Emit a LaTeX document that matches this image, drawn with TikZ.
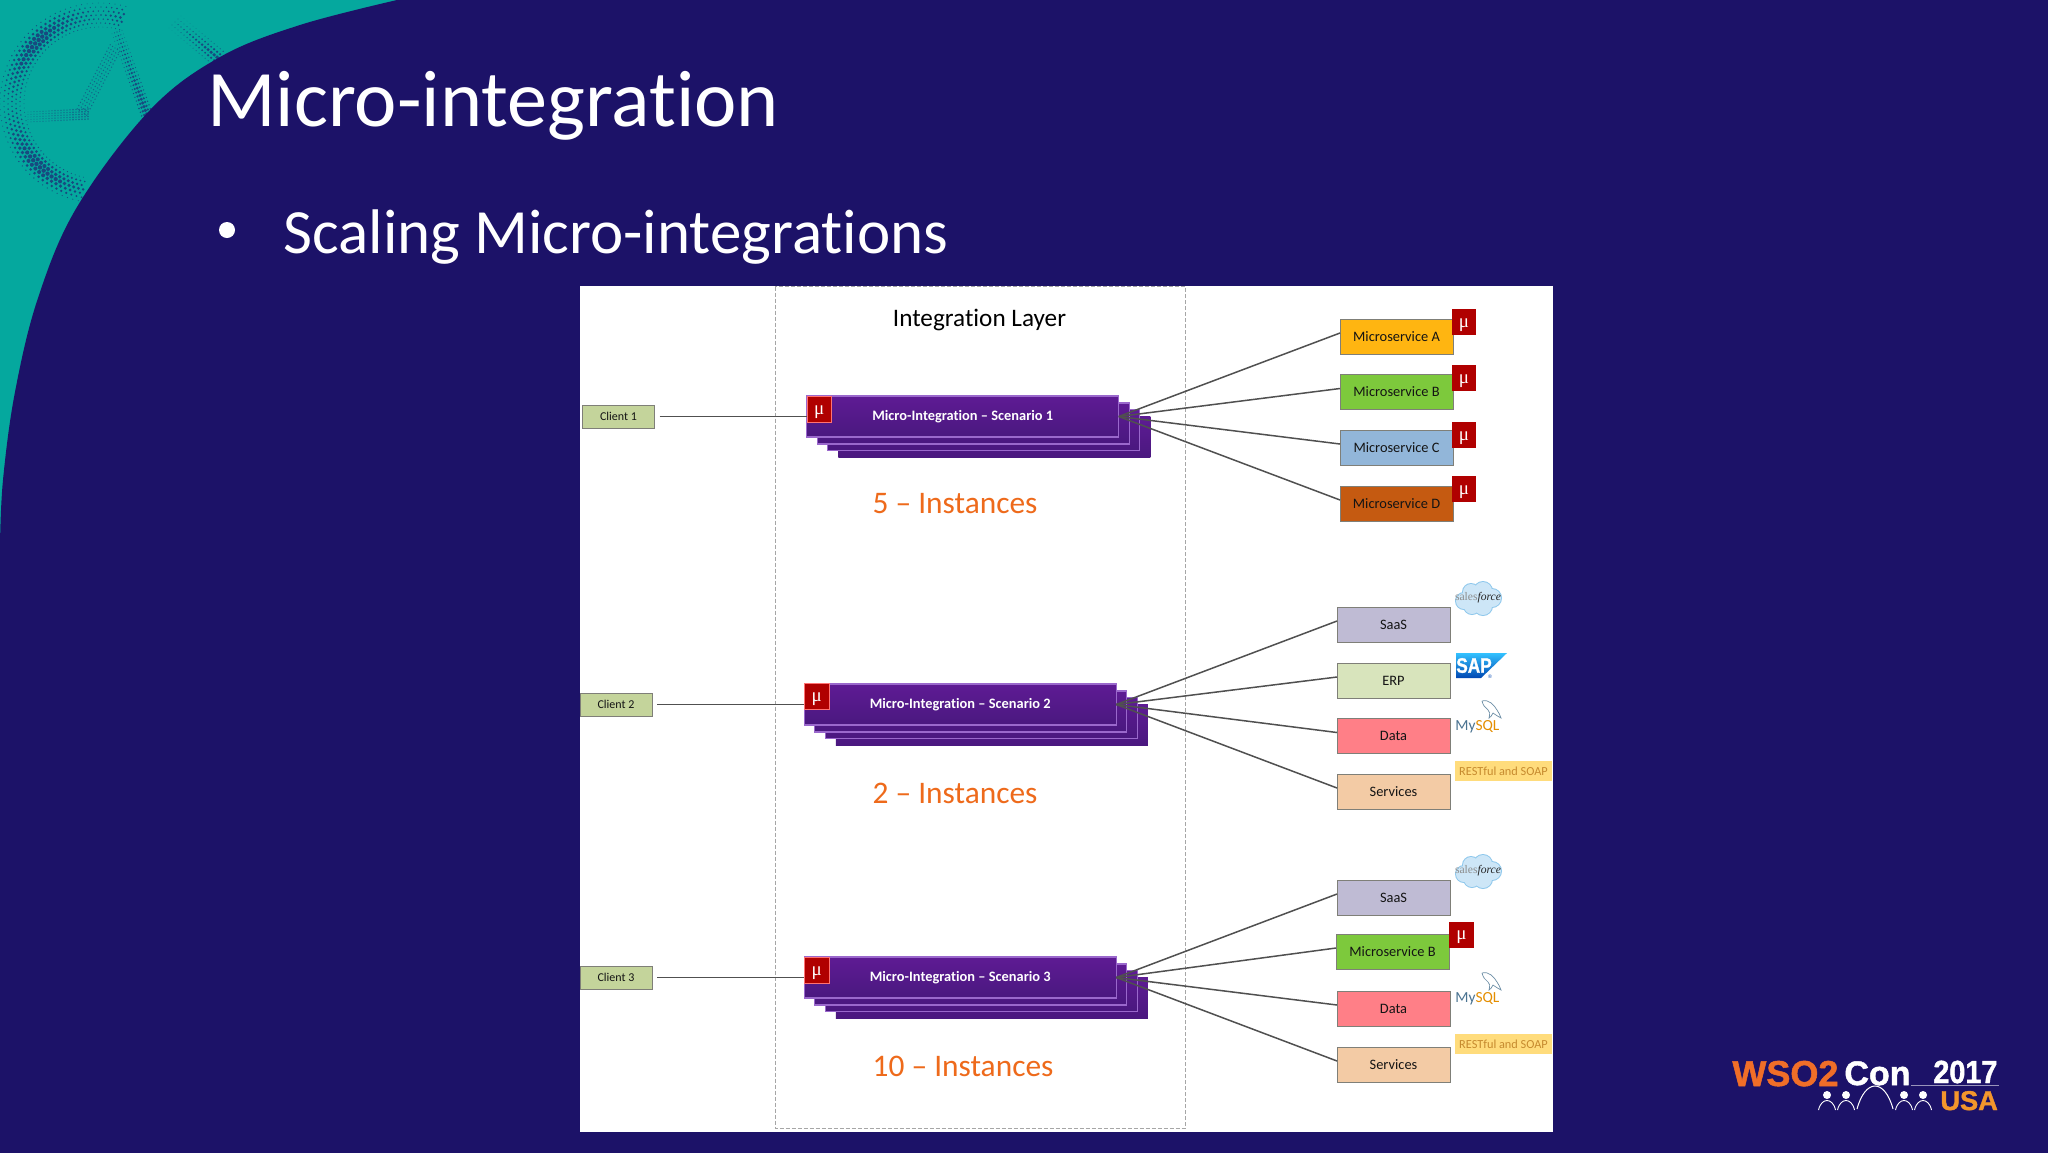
\documentclass[tikz,border=0pt]{standalone}
\usepackage{fontspec}
\setmainfont[Ligatures=NoCommon]{Carlito}
\newfontfamily\muface{Liberation Serif}
\newfontfamily\arialface{Liberation Sans}
\newfontfamily\logoface[BoldFeatures={FakeBold=1.4}]{Liberation Sans}
\usetikzlibrary{calc}
\definecolor{navy}{HTML}{1C1268}
\definecolor{teal1}{HTML}{05A89E}
\definecolor{dotblue}{HTML}{174A80}
\definecolor{cardtop}{HTML}{5E1B94}
\definecolor{cardbot}{HTML}{4A187F}
\definecolor{cardedge}{HTML}{9A68CC}
\definecolor{conn}{HTML}{505050}
\definecolor{orangetxt}{HTML}{EE6A1B}
\definecolor{boxedge}{HTML}{7F7F78}
\definecolor{mured}{HTML}{B00000}
\newcommand\fs[1]{\fontsize{#1}{#1}\selectfont}
\tikzset{
  card/.style={rectangle,inner sep=0,outer sep=0,minimum width=156pt,minimum height=20.5pt,
    top color=cardtop,bottom color=cardbot,draw=cardedge,line width=.6pt,
    text=white,text height=6pt,text depth=1.6pt,font=\fs{7.2}\bfseries},
  cardlast/.style={card,draw=none},
  svc/.style={rectangle,inner sep=0,outer sep=0,minimum width=56.5pt,minimum height=17.5pt,
    draw=boxedge,line width=.5pt,text=black!92,font=\fs{7.2}},
  client/.style={rectangle,inner sep=0,outer sep=0,minimum width=36pt,minimum height=11.5pt,
    draw=boxedge,fill=clientfill,line width=.5pt,text=black!92,font=\fs{6}},
  mubox/.style={rectangle,inner sep=0,outer sep=0,minimum width=12.25pt,minimum height=13pt,
    fill=mured,text=white,text height=7pt,text depth=2pt,font=\muface\fs{9.5}},
  mufront/.style={mubox,draw=red!55!white,line width=.4pt},
  wire/.style={draw=conn,line width=.75pt},
  instances/.style={inner sep=0,text=orangetxt,font=\fs{15.7}},
  restbox/.style={rectangle,inner sep=0,minimum width=48.5pt,minimum height=10pt,
    fill=restfill,text=resttext,font=\fs{6.15}},
  cloudlogo/.pic={
    \foreach \cx/\cy/\cr in {-14/2/8,-7/-7/8,5/-8/9,14/-1/9,5/7/9,-6/7/8}{
      \fill[cloudedge] (\cx,\cy) circle ({\cr*.5pt+.5pt});}
    \foreach \cx/\cy/\cr in {-14/2/8,-7/-7/8,5/-8/9,14/-1/9,5/7/9,-6/7/8,0/0/12}{
      \fill[cloudfill] (\cx,\cy) circle ({\cr*.5pt});}
    \node[inner sep=0,font=\muface\fs{5.8}] (lbl) at (0,-1) {\textcolor{black!45}{sales}\textcolor{black!85}{\itshape force}};
  },
  mysqllogo/.pic={
    \node[inner sep=0,anchor=base west,font=\fs{7.7}] (lbl) at (-1,0) {\textcolor{sqlblue}{My}\textcolor{sqlorange}{SQL}};
    \draw[sqlblue!80!white,line width=.35pt] (26,-29) .. controls (33,-31) and (38,-25) .. (41,-20)
       .. controls (43,-17) and (44,-15) .. (45,-12) .. controls (42,-14) and (39,-15) .. (37,-17)
       .. controls (36,-14) and (34,-13) .. (33,-12) .. controls (34,-16) and (34,-19) .. (32,-20)
       .. controls (29,-22) and (27,-25) .. (26,-29);
  },
  person/.pic={
    \fill[white] (0,0) circle (2pt);
    \draw[white,line width=.45pt] (-8.5,15) .. controls (-7,8) and (-3,5.5) .. (0,5.5) .. controls (3,5.5) and (7,8) .. (8.5,15);
  }
}
\definecolor{clientfill}{HTML}{C4D49B}
\definecolor{restfill}{HTML}{FFDC7C}
\definecolor{resttext}{HTML}{C68A2E}
\definecolor{cloudfill}{HTML}{CDE6F7}
\definecolor{cloudedge}{HTML}{8FC8EC}
\definecolor{sqlblue}{HTML}{4A7391}
\definecolor{sqlorange}{HTML}{E48E00}
\begin{document}
\begin{tikzpicture}[x=.5pt,y=-.5pt]
\useasboundingbox (0,0) rectangle (2048,1152);
% background
\fill[teal1] (0,0) rectangle (2048,1152);
% halftone ring
\foreach \a in {75,78.2,...,260}{
  \foreach \row in {0,...,6}{
    \pgfmathsetmacro{\r}{76+\row*4}
    \pgfmathsetmacro{\aa}{\a+mod(\row,2)*1.6}
    \pgfmathsetmacro{\band}{sin((\row+.5)*180/7)}
    \pgfmathsetmacro{\fade}{0.25+0.75*abs(sin(\a*2.0))}
    \pgfmathsetmacro{\rad}{0.12+1.0*\band*\fade}
    \fill[dotblue] ({100+\r*cos(\aa)},{103-\r*sin(\aa)}) circle ({\rad*1pt});
  }
}
% short arc top right
\foreach \t in {0,.07,...,1.01}{
  \foreach \row in {-2,...,2}{
    \pgfmathsetmacro{\rad}{(0.2+0.8*\t)*(1-abs(\row)/3)}
    \fill[dotblue] ({175+43*\t+\row*3},{22+36*\t-\row*3}) circle ({\rad*1pt});
  }
}
% A shape: heavy right stroke
\foreach \t in {0,.045,...,1.01}{
  \foreach \row in {-2,...,2}{
    \pgfmathsetmacro{\rad}{(0.35+0.6*\t)*(1-abs(\row)/3.5)}
    \fill[dotblue] ({117+30*\t+\row*2.5},{32+83*\t-\row*.9}) circle ({\rad*1pt});
  }
}
% A shape: fine left stroke and foot
\foreach \t in {0,.05,...,1.01}{
  \foreach \row in {-2,...,2}{
    \fill[dotblue!70!teal1] ({115-33*\t+\row*2.4},{48+64*\t+\row*1.6}) circle (.36pt);
    \fill[dotblue!70!teal1] ({88-60*\t},{114+3*\t+\row*2.5}) circle ({(.45-.22*\t)*1pt});
  }
}
% navy field
\fill[navy] (2049,-1) -- (400,-1) -- plot[smooth,tension=.6] coordinates
  {(397,0) (300,25) (220,57) (150,110) (77,207) (38,298) (15,392) (3,480) (0,545)}
  -- (-1,1153) -- (2049,1153) -- cycle;
% title
\node[inner sep=0,anchor=base west,text=white,font=\fs{40.1}] (title) at (207,126) {Micro-integration};
\fill[white] (227,230) circle (4pt);
\node[inner sep=0,anchor=base west,text=white,font=\fs{31.5}] (subtitle) at (283,253) {Scaling Micro-integrations};
% panel
\fill[white] (580,285.5) rectangle (1553,1132);
\draw[draw=black!35,line width=.5pt,dash pattern=on 2pt off 1pt] (775,286.5) rectangle (1185.5,1128);
\node[inner sep=0,text=black,font=\fs{12.6}] (layer) at (979.5,320) {Integration Layer};
% scenario stacks
\foreach \n/\dx/\dy/\st in {4/31.5/20.5/cardlast,3/21/13.5/card,2/10.5/7/card}{
  \node[\st] (sa\n) at (962.75+\dx,416.5+\dy) {};
  \node[\st] (sb\n) at (960.25+\dx,704.5+\dy) {};
  \node[\st] (sc\n) at (960.25+\dx,977.5+\dy) {};
}
\node[card] (sa) at (962.75,416.5) {Micro-Integration – Scenario 1};
\node[card] (sb) at (960.25,704.5) {Micro-Integration – Scenario 2};
\node[card] (sc) at (960.25,977.5) {Micro-Integration – Scenario 3};
\node[mufront] (ma) at (819.25,409) {μ};
\node[mufront] (mb) at (816.75,696.5) {μ};
\node[mufront] (mc) at (816.75,970) {μ};
% clients
\node[client] (ca) at (618.5,416.5) {Client 1};
\node[client] (cb) at (616,704.5) {Client 2};
\node[client] (cc) at (616,977.5) {Client 3};
\draw[wire,shorten <=2.5pt] (ca) -- (sa.west);
\draw[wire,shorten <=2.5pt] (cb) -- (sb.west);
\draw[wire,shorten <=2.5pt] (cc) -- (sc.west);
% instances
\node[instances] (ia) at (955,504) {5 – Instances};
\node[instances] (ib) at (955,793) {2 – Instances};
\node[instances] (ic) at (963,1066) {10 – Instances};
% services 1
\node[svc,fill={rgb,255:red,255;green,181;blue,17}] (a1) at (1396.5,336.5) {Microservice A};
\node[svc,fill={rgb,255:red,125;green,201;blue,60}] (a2) at (1396.5,392) {Microservice B};
\node[svc,fill={rgb,255:red,146;green,182;blue,217}] (a3) at (1396.5,447.5) {Microservice C};
\node[svc,fill={rgb,255:red,197;green,90;blue,17}] (a4) at (1396.5,503.5) {Microservice D};
\node[mubox] (ma1) at (1464,322) {μ};
\node[mubox] (ma2) at (1464,378) {μ};
\node[mubox] (ma3) at (1464,435) {μ};
\node[mubox] (ma4) at (1464,489) {μ};
% services 2
\node[svc,fill={rgb,255:red,191;green,187;blue,212}] (b1) at (1393.5,624.5) {SaaS};
\node[svc,fill={rgb,255:red,216;green,228;blue,188}] (b2) at (1393.5,680.5) {ERP};
\node[svc,fill={rgb,255:red,255;green,127;blue,135}] (b3) at (1393.5,736) {Data};
\node[svc,fill={rgb,255:red,243;green,203;blue,165}] (b4) at (1393.5,791.5) {Services};
% services 3
\node[svc,fill={rgb,255:red,191;green,187;blue,212}] (c1) at (1393.5,897.5) {SaaS};
\node[svc,fill={rgb,255:red,125;green,201;blue,60}] (c2) at (1392.5,951.5) {Microservice B};
\node[svc,fill={rgb,255:red,255;green,127;blue,135}] (c3) at (1393.5,1008.5) {Data};
\node[svc,fill={rgb,255:red,243;green,203;blue,165}] (c4) at (1393.5,1064.5) {Services};
\node[mubox] (mc2) at (1461.5,934.5) {μ};
% connectors
\foreach \s/\t in {sa/a,sb/b,sc/c}{
  \foreach \k in {1,2,3,4}{
    \draw[wire] (\s.east) -- ($(\t\k.west)+(0,-3.5)$);
  }
}
% logos
\pic (cla) at (1478,599) {cloudlogo};
\pic (clc) at (1478,872) {cloudlogo};
\shade[top color=cyan!70!blue!80,bottom color=blue!60!cyan!70!black] (1456,653) -- (1507,653) -- (1481,678) -- (1456,678) -- cycle;
\node[inner sep=0,xscale=.82,text=white,font=\logoface\bfseries\fs{10.5}] (sap) at (1474,665.5) {SAP};
\node[inner sep=0,text=blue!60!cyan!70!black,font=\arialface\fs{2.6}] (sapr) at (1490,677) {®};
\pic (sqb) at (1456,730) {mysqllogo};
\pic (sqc) at (1456,1002) {mysqllogo};
\node[restbox] (rb) at (1503.5,771) {RESTful and SOAP};
\node[restbox] (rc) at (1503.5,1044) {RESTful and SOAP};
% conference mark
\node[inner sep=0,anchor=base west,text={rgb,255:red,240;green,110;blue,40},font=\logoface\bfseries\fs{18}] (wso) at (1732,1086) {WSO2};
\node[inner sep=0,anchor=base west,text=white,font=\logoface\bfseries\fs{17}] (con) at (1844,1085) {Con};
\node[inner sep=0,anchor=base west,text=white,xscale=.9,font=\logoface\bfseries\fs{16}] (yr) at (1933,1083) {2017};
\node[inner sep=0,anchor=base west,text={rgb,255:red,243;green,150;blue,44},font=\logoface\bfseries\fs{13.6}] (usa) at (1940,1110) {USA};
\draw[draw=white!55!navy,line width=.4pt] (con.base east) -- (1999,1085);
\draw[white,line width=.5pt] (1857,1109) .. controls (1861,1094) and (1868,1086) .. (1875,1086) .. controls (1882,1086) and (1889,1094) .. (1893,1109);
\foreach \px/\nm in {1827/pa,1846/pb,1904/pc,1923/pd}{
  \pic (\nm) at (\px,1095) {person};
}
\end{tikzpicture}
\end{document}
